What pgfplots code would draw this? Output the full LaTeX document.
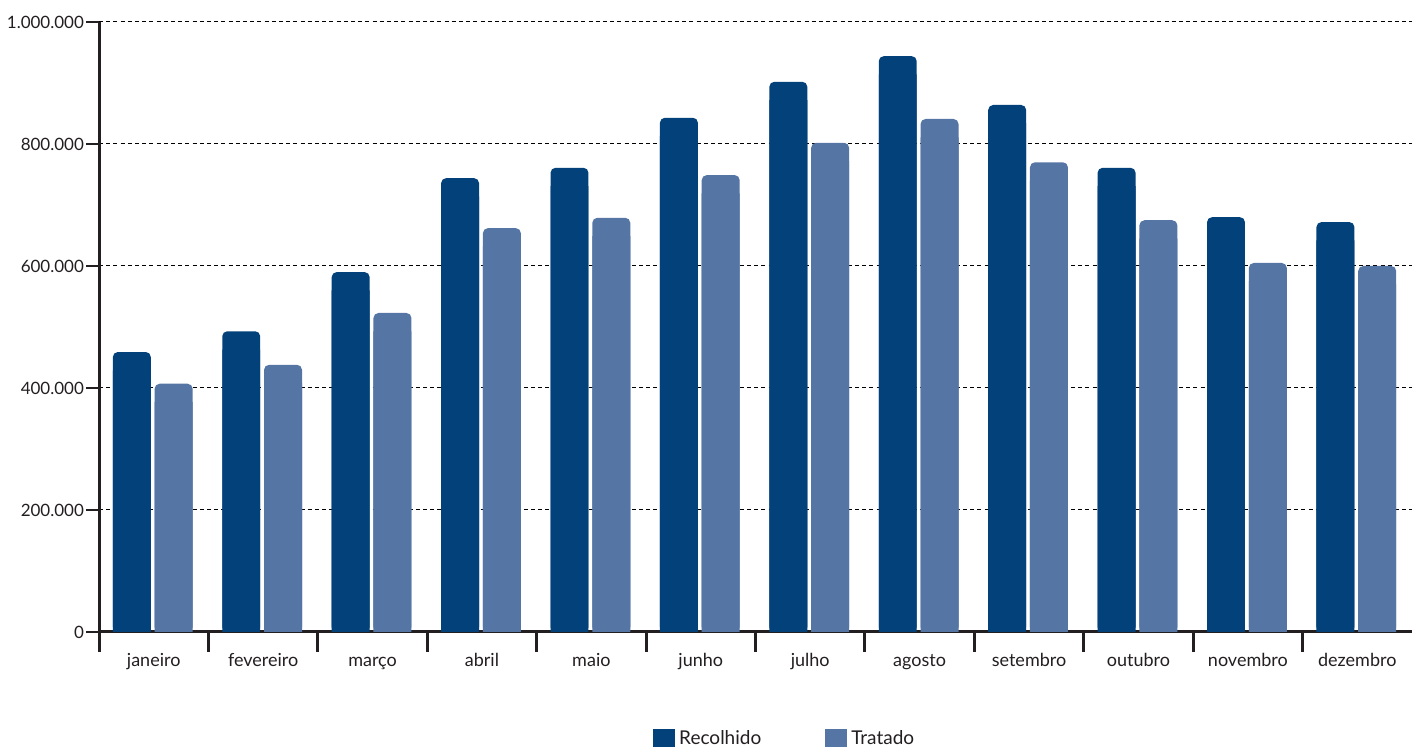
\documentclass[border=0pt]{standalone}
\usepackage{pgfplots}
\pgfplotsset{compat=1.18}
\usepackage{pgfplotstable}
\usepackage{fontspec}
\setmainfont{Lato}
\definecolor{rec}{HTML}{03417A}
\definecolor{trat}{HTML}{5575A5}
\definecolor{axc}{HTML}{231F20}

\pgfplotstableread{
x r t
0.5 459000 407000
1.5 493000 438000
2.5 590000 523000
3.5 744000 662000
4.5 761000 679000
5.5 843000 749000
6.5 902000 802000
7.5 944000 841000
8.5 864000 770000
9.5 761000 675000
10.5 680000 605000
11.5 672000 600000
}\data

\begin{document}
\begin{tikzpicture}
\useasboundingbox (-49.5pt,-57.5pt) rectangle (656.5pt,316pt);
\begin{axis}[
  at={(0,0)}, anchor=south west,
  scale only axis, width=656.5pt, height=305pt,
  xmin=0, xmax=12, ymin=0, ymax=1000000,
  axis x line*=bottom, axis y line*=left,
  axis line style={-, axc, line width=1.5pt},
  tick align=outside,
  major tick length=6.5pt, minor tick length=10pt,
  xtick={0.5,1.5,...,11.5},
  xticklabels={janeiro,fevereiro,março,abril,maio,junho,julho,agosto,setembro,outubro,novembro,dezembro},
  minor xtick={0,1,...,11},
  major x tick style={draw=none},
  minor x tick style={axc, line width=1.5pt},
  ytick={0,200000,400000,600000,800000,1000000},
  yticklabels={0,200.000,400.000,600.000,800.000,1.000.000},
  y tick style={axc, line width=1.1pt},
  scaled y ticks=false,
  ymajorgrids,
  major grid style={black, line width=0.5pt, dash pattern=on 2pt off 1.6pt},
  xticklabel style={font=\fontsize{9}{10}\selectfont, text=axc, text height=7pt, text depth=2pt},
  yticklabel style={font=\fontsize{8.5}{10}\selectfont, text=axc, xshift=2.5pt},
  legend style={at={(0.523,-0.1755)}, anchor=center, draw=none, fill=none,
    legend columns=2, font=\fontsize{9.5}{11}\selectfont, text=axc,
    /tikz/every even column/.append style={column sep=30pt}},
  legend image code/.code={\fill[#1, sharp corners] (0pt,-5pt) rectangle (11pt,5pt);},
]
\addplot[ybar, bar width=0.347, bar shift=-0.2, fill=rec, draw=none, rounded corners=2.5pt] table[x=x,y=r]{\data};
\addplot[ybar, bar width=0.347, bar shift=0.182, fill=trat, draw=none, rounded corners=2.5pt] table[x=x,y=t]{\data};
\addplot[forget plot, ybar, bar width=0.347, bar shift=-0.2, fill=rec, draw=none] table[x=x,y expr=\thisrow{r}-30000]{\data};
\addplot[forget plot, ybar, bar width=0.347, bar shift=0.182, fill=trat, draw=none] table[x=x,y expr=\thisrow{t}-30000]{\data};
\legend{Recolhido,Tratado}
\end{axis}
\end{tikzpicture}
\end{document}
